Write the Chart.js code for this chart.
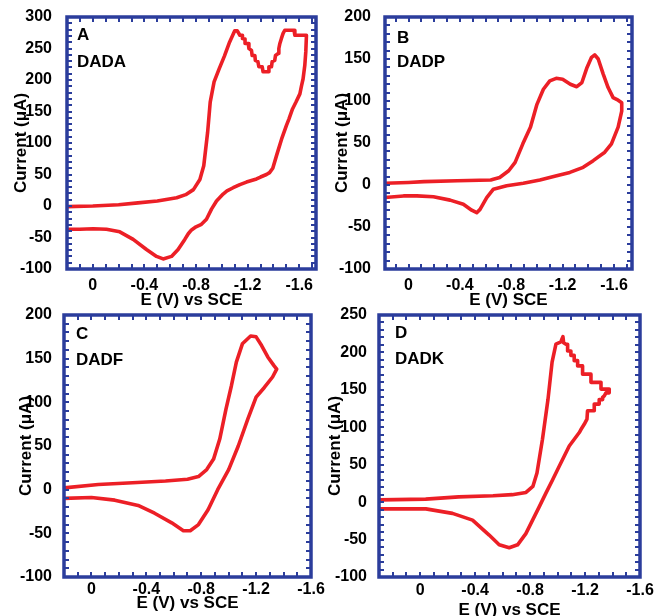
<!DOCTYPE html>
<html><head><meta charset="utf-8">
<script src="https://cdn.jsdelivr.net/npm/chart.js@4/dist/chart.umd.min.js"></script>
<style>
html,body{margin:0;padding:0;background:#fff;}
#wrap{position:relative;width:654px;height:616px;overflow:hidden;}
canvas{position:absolute;left:0;top:0;}
</style></head><body><div id="wrap">
<canvas id="cA" width="654" height="616"></canvas>
<canvas id="cB" width="654" height="616"></canvas>
<canvas id="cC" width="654" height="616"></canvas>
<canvas id="cD" width="654" height="616"></canvas>
</div>
<script>
// ---------- data ----------
const xTicks = [0, -0.4, -0.8, -1.2, -1.6];
const yTicksA = [300, 250, 200, 150, 100, 50, 0, -50, -100];
const yTicksB = [200, 150, 100, 50, 0, -50, -100];
const yTicksC = [200, 150, 100, 50, 0, -50, -100];
const yTicksD = [250, 200, 150, 100, 50, 0, -50, -100];
const letters = ['A', 'B', 'C', 'D'];
const compounds = ['DADA', 'DADP', 'DADF', 'DADK'];
const xTitles = ['E (V) vs SCE', 'E (V) SCE', 'E (V) vs SCE', 'E (V) vs SCE'];
const yTitle = 'Current (\u03bcA)';

// DADA (potential V, current uA), cyclic loop
const dadaE = [0.20, 0.00, -0.20, -0.35, -0.50, -0.65, -0.72, -0.78, -0.83, -0.86, -0.89, -0.91, -0.94, -0.98, -1.02, -1.06, -1.10, -1.12,
  -1.14, -1.16, -1.16, -1.18, -1.18, -1.205, -1.21, -1.23, -1.235, -1.256, -1.26, -1.28, -1.287, -1.313, -1.32, -1.36, -1.365, -1.385, -1.39, -1.41, -1.416, -1.437, -1.442, -1.45, -1.462, -1.475, -1.488, -1.56, -1.566, -1.656,
  -1.651, -1.643, -1.63, -1.618, -1.605, -1.575, -1.548, -1.52, -1.501, -1.463, -1.424, -1.395, -1.37, -1.346, -1.30, -1.269, -1.191, -1.14, -1.088, -1.04, -1.01, -0.959, -0.92, -0.881, -0.842, -0.80, -0.765, -0.74, -0.713, -0.661, -0.61, -0.545, -0.494, -0.416, -0.313, -0.209, -0.106, -0.003, 0.101, 0.204];
const dadaI = [-1, 0, 2, 5, 8, 13, 18, 26, 42, 64, 117, 165, 197, 218, 238, 260, 278, 278,
  271, 271, 266, 265, 258, 258, 250, 247, 239, 239, 231, 229, 221, 221, 213, 213, 221, 221, 229, 231, 239, 242, 250, 258, 266, 274, 279, 279, 271, 271,
  245, 223, 202, 191, 178, 165, 154, 138, 128, 106, 80, 60, 53, 50, 46, 43, 38, 34, 29, 24, 19, 8, -5, -21, -29, -33, -38, -44, -53, -69, -80, -84, -80, -69, -53, -41, -37, -36, -37, -37];

// DADP
const dadpE = [0.19, 0.00, -0.12, -0.38, -0.64, -0.71, -0.78, -0.83, -0.89, -0.95, -1.00, -1.05, -1.10, -1.15, -1.20, -1.26, -1.31, -1.35, -1.39, -1.425, -1.45, -1.477, -1.516, -1.554, -1.593, -1.632, -1.66,
  -1.66, -1.632, -1.58, -1.528, -1.438, -1.36, -1.256, -1.153, -1.023, -0.894, -0.764, -0.661, -0.609, -0.557, -0.531, -0.492, -0.427, -0.324, -0.194, -0.065, 0.039, 0.19];
const dadpI = [2, 3, 4, 5, 6, 9, 17, 27, 49, 69, 96, 114, 124, 127, 126, 120, 117, 122, 140, 152, 155, 150, 132, 116, 104, 101, 98,
  88, 69, 49, 39, 29, 21, 15, 11, 6, 2, -1, -5, -15, -29, -33, -30, -23, -18, -14, -13, -13, -15];

// DADF
const dadfE = [0.20, -0.05, -0.30, -0.54, -0.70, -0.78, -0.84, -0.89, -0.935, -0.98, -1.02, -1.056, -1.10, -1.16, -1.20, -1.24, -1.285, -1.33, -1.35,
  -1.32, -1.26, -1.20, -1.14, -1.07, -1.00, -0.92, -0.85, -0.78, -0.72, -0.67, -0.585, -0.46, -0.34, -0.17, 0.00, 0.20];
const dadfI = [2, 6, 8, 10, 12, 15, 23, 35, 58, 92, 119, 146, 167, 176, 175, 165, 152, 142, 138,
  129, 117, 106, 81, 50, 23, 0, -23, -40, -47, -47, -38, -27, -18, -12, -9, -10];

// DADK
const dadkE = [0.29, -0.04, -0.28, -0.53, -0.67, -0.77, -0.82, -0.85, -0.89, -0.93, -0.96, -0.988, -1.024, -1.032, -1.039, -1.044, -1.061, -1.073, -1.073, -1.097, -1.097, -1.121, -1.121, -1.146, -1.146, -1.182, -1.182, -1.243, -1.243, -1.316, -1.316, -1.376,
  -1.376, -1.352, -1.340, -1.328, -1.328, -1.303, -1.303, -1.267, -1.267, -1.218, -1.214, -1.194, -1.17,
  -1.158, -1.085, -1.012, -0.964, -0.915, -0.867, -0.818, -0.769, -0.709, -0.648, -0.575, -0.502, -0.381, -0.235, -0.041, 0.29];
const dadkI = [3, 4, 7, 8.5, 10, 13, 21, 39, 84, 137, 187, 211, 214, 218, 221, 213, 211, 211, 202, 202, 196, 196, 189, 189, 182, 182, 171, 171, 160, 160, 151, 151,
  146, 146, 142, 140, 137, 137, 131, 131, 122, 122, 111, 104, 97,
  93, 75, 48, 30, 12, -6, -24, -42, -57, -61, -57, -44, -24, -15, -9, -9];

// ---------- styling ----------
const RED = '#ec1f26';
const BLUE = '#2b3d9c';
const FONT = '"Liberation Sans", Arial, Helvetica, sans-serif';

const framePlugin = {
  id: 'frame',
  afterDatasetsDraw(chart, args, o) {
    const {ctx, chartArea: a} = chart;
    const x = chart.scales.x, y = chart.scales.y;
    const TL = 5;
    ctx.save();
    ctx.strokeStyle = BLUE;
    ctx.lineWidth = 2;
    ctx.beginPath();
    for (let k = Math.ceil(x.min * 10 - 1e-6); k <= Math.floor(x.max * 10 + 1e-6); k++) {
      const px = Math.round(x.getPixelForValue(k / 10));
      ctx.moveTo(px, a.bottom); ctx.lineTo(px, a.bottom - TL);
      ctx.moveTo(px, a.top); ctx.lineTo(px, a.top + TL);
    }
    for (let k = Math.ceil(y.min / 10 - 1e-6); k <= Math.floor(y.max / 10 + 1e-6); k++) {
      const py = Math.round(y.getPixelForValue(k * 10));
      ctx.moveTo(a.left, py); ctx.lineTo(a.left + TL, py);
      ctx.moveTo(a.right, py); ctx.lineTo(a.right - TL, py);
    }
    ctx.stroke();
    ctx.lineWidth = 3.5;
    ctx.strokeRect(a.left, a.top, a.right - a.left, a.bottom - a.top);
    ctx.fillStyle = '#000';
    ctx.font = 'bold 17px ' + FONT;
    ctx.textBaseline = 'alphabetic';
    ctx.textAlign = 'left';
    ctx.fillText(o.letter, a.left + o.lx, a.top + o.ly1);
    ctx.fillText(o.name, a.left + o.lx, a.top + o.ly2);
    ctx.restore();
  }
};

function makePanel(id, E, I, yT, xr, yr, idx, g) {
  const pts = E.map((e, i) => ({x: e, y: I[i]}));
  return new Chart(document.getElementById(id), {
    type: 'scatter',
    data: {datasets: [{data: pts, showLine: true, borderColor: RED, borderWidth: 3.6,
      pointRadius: 0, tension: 0, fill: false, borderJoinStyle: 'round', borderCapStyle: 'round'}]},
    options: {
      responsive: false, animation: false, devicePixelRatio: 1,
      layout: {autoPadding: false, padding: {left: g.padL, right: 654 - g.R, top: g.T, bottom: g.padB}},
      plugins: {legend: {display: false}, tooltip: {enabled: false},
        frame: {letter: letters[idx], name: compounds[idx], lx: g.lx, ly1: g.ly1, ly2: g.ly2}},
      scales: {
        x: {type: 'linear', reverse: true, min: xr[0], max: xr[1],
          afterFit: s => { s.height = g.xH; },
          afterBuildTicks: s => { s.ticks = xTicks.map(v => ({value: v})); },
          grid: {display: false}, border: {display: false},
          ticks: {padding: g.xLabPad, color: '#000', font: {family: FONT, size: 16, weight: 'bold'},
            maxRotation: 0, autoSkip: false, callback: v => String(v)},
          title: {display: true, text: xTitles[idx], color: '#000', padding: {top: 0, bottom: g.xTitlePadB},
            font: {family: FONT, size: 17, weight: 'bold'}}
        },
        y: {type: 'linear', min: yr[0], max: yr[1],
          afterFit: s => { s.width = g.yW; },
          afterBuildTicks: s => { s.ticks = yT.map(v => ({value: v})); },
          grid: {display: false}, border: {display: false},
          ticks: {padding: g.yLabPad, color: '#000', font: {family: FONT, size: 16, weight: 'bold'},
            autoSkip: false, callback: v => String(v)},
          title: {display: true, text: yTitle, color: '#000', padding: {top: g.yTitlePad, bottom: 0},
            font: {family: FONT, size: 17, weight: 'bold'}}
        }
      }
    },
    plugins: [framePlugin]
  });
}

makePanel('cA', dadaE, dadaI, yTicksA, [-1.73, 0.2], [-100, 300], 0,
  {padL: 0, yW: 67, R: 316, T: 17, padB: 307, xH: 40, xLabPad: -1, xTitlePadB: -2, yLabPad: 7, yTitlePad: 11, lx: 10, ly1: 23, ly2: 50});
makePanel('cB', dadpE, dadpI, yTicksB, [-1.74, 0.183], [-100, 200], 1,
  {padL: 327, yW: 58, R: 632, T: 17, padB: 307, xH: 40, xLabPad: -1, xTitlePadB: -2, yLabPad: 6, yTitlePad: 5, lx: 12, ly1: 26, ly2: 50});
makePanel('cC', dadfE, dadfI, yTicksC, [-1.6, 0.2], [-100, 200], 2,
  {padL: 0, yW: 64, R: 311, T: 315, padB: 4, xH: 35, xLabPad: -5, xTitlePadB: -2, yLabPad: 4, yTitlePad: 16, lx: 12, ly1: 24, ly2: 50});
makePanel('cD', dadkE, dadkI, yTicksD, [-1.6, 0.3], [-100, 250], 3,
  {padL: 323, yW: 56, R: 640, T: 315, padB: 0, xH: 39, xLabPad: -4, xTitlePadB: -5, yLabPad: 4, yTitlePad: 2, lx: 16, ly1: 23, ly2: 49});
</script>
</body></html>
